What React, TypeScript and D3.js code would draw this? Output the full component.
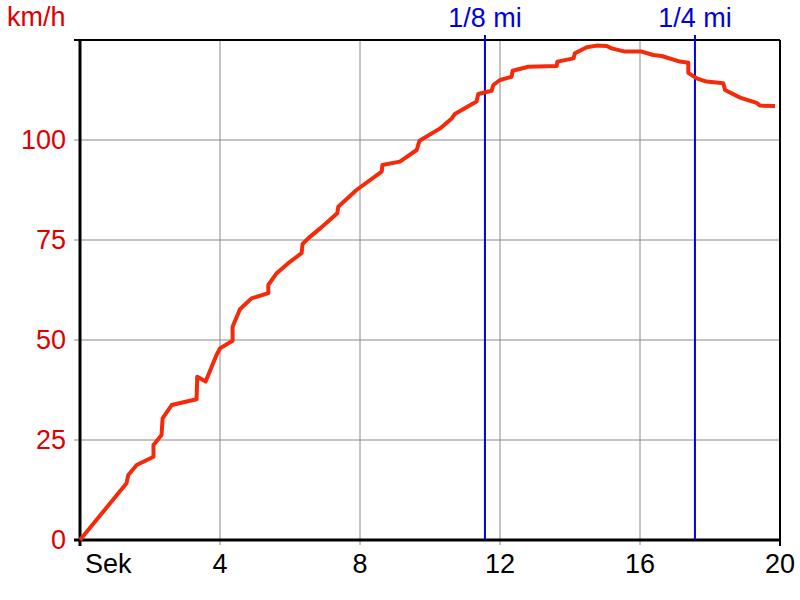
import { useEffect, useRef } from 'react';
import * as d3 from 'd3';

const times = [
  0, 1.33, 1.38, 1.62, 2.1, 2.1, 2.33, 2.36, 2.62, 3.33, 3.35, 3.59, 3.9, 4.0, 4.36, 4.36, 4.57, 4.9,
  5.38, 5.38, 5.62, 5.95, 6.33, 6.36, 6.52, 6.86, 7.35, 7.38, 7.9, 8.62, 8.64, 9.14, 9.62, 9.7, 10.29,
  10.62, 10.71, 11.33, 11.38, 11.76, 11.81, 12.0, 12.33, 12.36, 12.81, 13.62, 13.64, 14.1, 14.14, 14.48,
  14.76, 15.05, 15.19, 15.57, 16.05, 16.38, 16.62, 17.14, 17.38, 17.38, 17.62, 17.9, 18.38, 18.43, 18.86,
  19.33, 19.43, 19.86,
];
const speeds = [
  0, 14.2, 16.25, 18.75, 20.8, 23.75, 26.25, 30.4, 33.75, 35.2, 40.8, 39.6, 46.25, 47.9, 49.8, 53.3, 57.7,
  60.4, 61.7, 63.75, 66.7, 69.2, 71.7, 74, 75.4, 77.9, 81.7, 83.3, 87.5, 92.1, 93.75, 94.6, 97.5, 99.8,
  102.9, 105.4, 106.5, 109.6, 111.5, 112.3, 113.75, 115, 115.8, 117.3, 118.3, 118.5, 119.6, 120.4, 121.7,
  123.2, 123.6, 123.5, 122.9, 122.1, 122.1, 121.25, 121, 119.6, 119.3, 116.8, 115.4, 114.6, 114.2, 112.5,
  110.6, 109.3, 108.6, 108.5,
];
const xTicks = [4, 8, 12, 16, 20];
const yTicks = [0, 25, 50, 75, 100];
const gridX = [4, 8, 12, 16];
const gridY = [25, 50, 75, 100];
const markerTimes = [11.57, 17.57];
const markerLabels = ['1/8 mi', '1/4 mi'];

export default function App() {
  const ref = useRef<SVGSVGElement | null>(null);

  useEffect(() => {
    if (!ref.current) return;
    const svg = d3.select(ref.current);
    svg.selectAll('*').remove();

    const font = 'Arial, "Liberation Sans", sans-serif';
    const fs = 27;
    const x = d3.scaleLinear().domain([0, 20]).range([80, 780]);
    const y = d3.scaleLinear().domain([0, 125]).range([540, 40]);

    svg.append('rect').attr('width', 800).attr('height', 600).attr('fill', '#fff');

    // grid
    svg.selectAll('.gx').data(gridX).enter().append('line')
      .attr('x1', d => x(d)).attr('x2', d => x(d)).attr('y1', y(125)).attr('y2', y(0) + 5)
      .attr('stroke', '#888').attr('stroke-width', 1);
    svg.selectAll('.gy').data(gridY).enter().append('line')
      .attr('x1', x(0) - 6).attr('x2', x(20)).attr('y1', d => y(d)).attr('y2', d => y(d))
      .attr('stroke', '#888').attr('stroke-width', 1);

    // frame
    svg.append('line').attr('x1', x(0) - 6).attr('x2', x(20)).attr('y1', y(125)).attr('y2', y(125))
      .attr('stroke', '#000').attr('stroke-width', 2);
    svg.append('line').attr('x1', x(20)).attr('x2', x(20)).attr('y1', y(125)).attr('y2', y(0) + 6)
      .attr('stroke', '#000').attr('stroke-width', 2);
    svg.append('line').attr('x1', x(0)).attr('x2', x(0)).attr('y1', y(125)).attr('y2', y(0) + 6)
      .attr('stroke', '#000').attr('stroke-width', 3);
    svg.append('line').attr('x1', x(0) - 6).attr('x2', x(20)).attr('y1', y(0)).attr('y2', y(0))
      .attr('stroke', '#000').attr('stroke-width', 3);

    // markers
    svg.selectAll('.mk').data(markerTimes).enter().append('line')
      .attr('x1', d => x(d)).attr('x2', d => x(d)).attr('y1', 35).attr('y2', y(0))
      .attr('stroke', '#0000e0').attr('stroke-width', 2);
    svg.selectAll('.mkl').data(markerTimes).enter().append('text')
      .attr('x', d => x(d)).attr('y', 27).attr('text-anchor', 'middle')
      .attr('font-family', font).attr('font-size', fs).attr('fill', '#0000e0')
      .text((_, i) => markerLabels[i]);

    // speed line
    const pts = times.map((t, i) => [t, speeds[i]] as [number, number]);
    svg.append('path').datum(pts)
      .attr('fill', 'none').attr('stroke', '#f52a0a').attr('stroke-width', 4)
      .attr('stroke-linejoin', 'round')
      .attr('d', d3.line<[number, number]>().x(d => x(d[0])).y(d => y(d[1])));

    // labels
    svg.selectAll('.yl').data(yTicks).enter().append('text')
      .attr('x', 66).attr('y', d => y(d) + 9).attr('text-anchor', 'end')
      .attr('font-family', font).attr('font-size', fs).attr('fill', '#e00000')
      .text(d => String(d));
    svg.append('text').attr('x', 7).attr('y', 26)
      .attr('font-family', font).attr('font-size', fs).attr('fill', '#e00000').text('km/h');
    svg.selectAll('.xl').data(xTicks).enter().append('text')
      .attr('x', d => x(d)).attr('y', 573).attr('text-anchor', 'middle')
      .attr('font-family', font).attr('font-size', fs).attr('fill', '#000')
      .text(d => String(d));
    svg.append('text').attr('x', 85).attr('y', 573)
      .attr('font-family', font).attr('font-size', fs).attr('fill', '#000').text('Sek');
  }, []);

  return (
    <svg
      ref={ref}
      width={800}
      height={600}
      style={{ position: 'absolute', left: 0, top: 0, display: 'block' }}
    />
  );
}
